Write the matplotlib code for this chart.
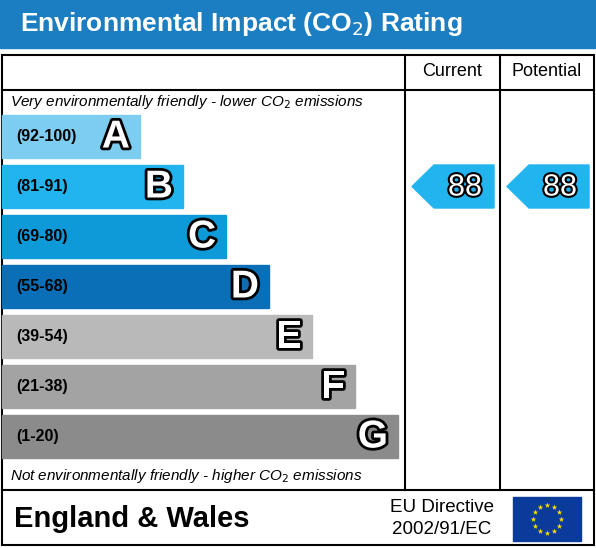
import matplotlib
matplotlib.use("Agg")
import matplotlib.pyplot as plt
from matplotlib.patches import Rectangle, Polygon
import matplotlib.patheffects as pe
import numpy as np

letters = ["A", "B", "C", "D", "E", "F", "G"]
ranges = ["(92-100)", "(81-91)", "(69-80)", "(55-68)", "(39-54)", "(21-38)", "(1-20)"]
colors = ["#7dcdf1", "#22b4ee", "#0e9ad8", "#0a6fb6", "#b9b9b9", "#a3a3a3", "#8b8b8b"]
current = 88
potential = 88

W, H = 596, 548
fig = plt.figure(figsize=(W/100, H/100), dpi=100)
ax = fig.add_axes([0, 0, 1, 1])
ax.set_xlim(0, W); ax.set_ylim(H, 0); ax.axis("off")

ax.add_patch(Rectangle((0, 0), W, 48, color="#1b7dc2"))
ax.text(20, 24, "Environmental Impact (CO$_2$) Rating", color="white", fontsize=19,
        fontweight="bold", va="center", ha="left", family="Liberation Sans")

lw = 1.5
ax.add_patch(Rectangle((2, 55), 592, 490, fill=False, lw=lw, ec="black"))
ax.plot([2, 594], [90, 90], color="black", lw=lw)
ax.plot([2, 594], [490, 490], color="black", lw=lw)
ax.plot([405, 405], [55, 490], color="black", lw=lw)
ax.plot([500, 500], [55, 490], color="black", lw=lw)
ax.text(452, 72, "Current", ha="center", va="center", fontsize=13, family="Liberation Sans")
ax.text(547, 72, "Potential", ha="center", va="center", fontsize=13, family="Liberation Sans")
ax.text(10, 102, "Very environmentally friendly - lower CO$_2$ emissions", fontsize=11,
        style="italic", va="center", family="Liberation Sans")
ax.text(10, 476, "Not environmentally friendly - higher CO$_2$ emissions", fontsize=11,
        style="italic", va="center", family="Liberation Sans")

top0, step, bh = 115, 50, 43
w0, dw = 138, 43
outline = [pe.withStroke(linewidth=4, foreground="black")]
for i, (L, r, c) in enumerate(zip(letters, ranges, colors)):
    y = top0 + i*step
    w = w0 + i*dw
    ax.add_patch(Rectangle((2, y), w, bh, color=c))
    ax.text(16, y+bh/2, r, fontsize=11.5, fontweight="bold", va="center", color="black",
            family="Liberation Sans")
    ax.text(2+w-10, y+bh/2+1, L, fontsize=28, fontweight="bold", va="center", ha="right",
            color="white", path_effects=outline, family="Liberation Sans")

def band_index(v):
    bounds = [92, 81, 69, 55, 39, 21, 1]
    for i, b in enumerate(bounds):
        if v >= b:
            return i
    return 6

for val, x0, x1 in [(current, 412, 494), (potential, 507, 589)]:
    i = band_index(val)
    y = top0 + i*step
    ax.add_patch(Polygon([(x0, y+bh/2), (x0+22, y), (x1, y), (x1, y+bh), (x0+22, y+bh)],
                         color=colors[i]))
    ax.text(x1-12, y+bh/2+1, str(val), fontsize=22, ha="right", va="center", color="white",
            path_effects=[pe.withStroke(linewidth=3, foreground="black")], family="Liberation Sans")

ax.text(14, 519, "England & Wales", fontsize=21, fontweight="bold", va="center", family="Liberation Sans")
ax.text(442, 508, "EU Directive", fontsize=13.5, ha="center", va="center", family="Liberation Sans")
ax.text(442, 530, "2002/91/EC", fontsize=13.5, ha="center", va="center", family="Liberation Sans")
ax.add_patch(Rectangle((513, 497), 68, 44, color="#0a3a9a"))
ang = np.linspace(0, 2*np.pi, 12, endpoint=False)
ax.scatter(547 + 14*np.cos(ang), 519 + 14*np.sin(ang), marker="*", s=18, color="#ffdd00", lw=0)

fig.savefig("out.png", dpi=100)
